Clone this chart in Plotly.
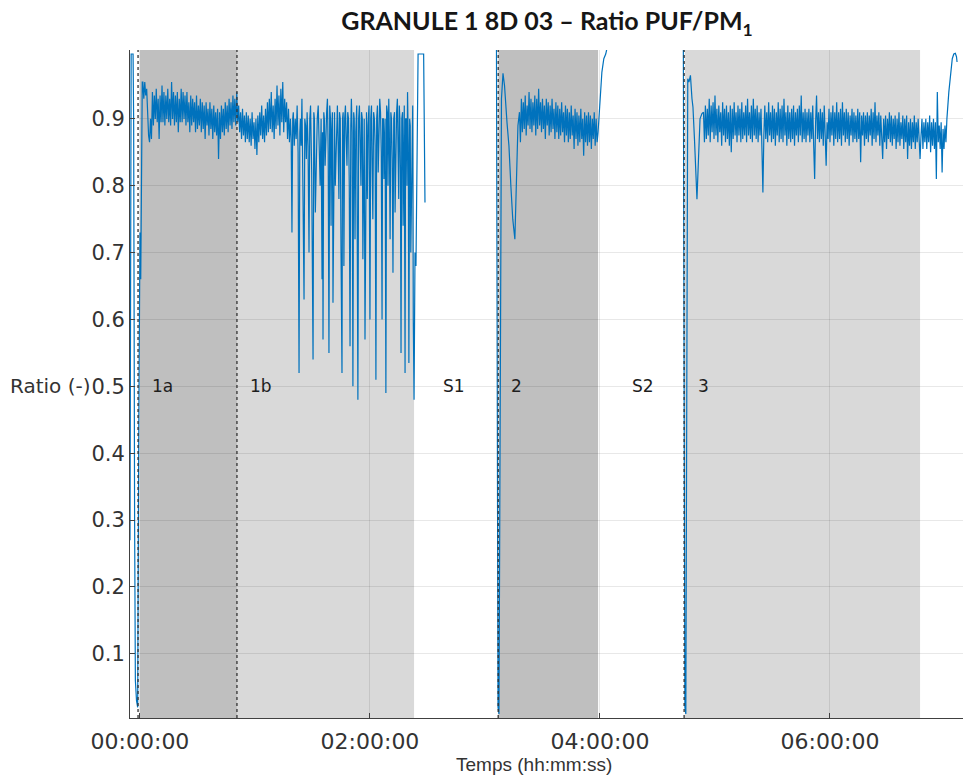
import numpy as np
import plotly.graph_objects as go

# ---- measured ratio PUF/PM1, time in minutes from the start of phase 1a ----
start_t = [-5.2, -4.9, -4.6, -3.6, -3.3, -2.8, -2.4, -1.8, -1.2, -0.6, 0.0, 0.4, 0.8, 1.2]
start_v = [0.27, 0.62, 0.997, 0.997, 0.90, 0.30, 0.06, 0.03, 0.02, 0.45, 0.73, 0.66, 0.88, 0.955]

# phase 1a, one sample every 30 s
p1a_t0 = 1.5
p1a_v = [0.955, 0.93, 0.955, 0.935, 0.945, 0.90, 0.875, 0.865, 0.90, 0.87,
         0.94, 0.89, 0.935, 0.90, 0.945, 0.895, 0.93, 0.87, 0.935, 0.895,
         0.95, 0.895, 0.94, 0.89, 0.935, 0.90, 0.945, 0.895, 0.93, 0.89,
         0.955, 0.90, 0.94, 0.89, 0.935, 0.895, 0.94, 0.88, 0.93, 0.895,
         0.945, 0.895, 0.94, 0.90, 0.935, 0.89, 0.94, 0.895, 0.925, 0.88,
         0.935, 0.89, 0.93, 0.895, 0.925, 0.88, 0.935, 0.885, 0.92, 0.89,
         0.93, 0.88, 0.925, 0.885, 0.92, 0.87, 0.925, 0.89, 0.915, 0.875,
         0.925, 0.885, 0.915, 0.87, 0.92, 0.88, 0.91, 0.875, 0.915, 0.84,
         0.91, 0.87, 0.92, 0.88, 0.915, 0.875, 0.925, 0.885, 0.92, 0.88,
         0.93, 0.89, 0.925, 0.885, 0.935, 0.895, 0.93, 0.89, 0.94, 0.895]

# phase 1b, stable part, one sample every 30 s
p1b_t0 = 51.5
p1b_v = [0.92, 0.88, 0.91, 0.87, 0.915, 0.875, 0.905, 0.865, 0.91, 0.87,
         0.905, 0.865, 0.90, 0.86, 0.91, 0.87, 0.895, 0.855, 0.90, 0.846,
         0.905, 0.865, 0.91, 0.875, 0.92, 0.87, 0.905, 0.865, 0.915, 0.875,
         0.925, 0.88, 0.93, 0.885, 0.94, 0.88, 0.92, 0.87, 0.93, 0.885,
         0.95, 0.89, 0.935, 0.875, 0.945, 0.895, 0.955, 0.88, 0.93, 0.895,
         0.925, 0.87, 0.915, 0.865]

# phase 1b, unstable part: (time, ratio) with deep drops
p1b_unstable = [
    (78.5, .90), (78.9, .87), (79.3, .73), (79.7, .90), (80.0, .91), (80.5, .86), (81.0, .90),
    (81.5, .87), (82.0, .92), (82.5, .85), (83.0, .52), (83.4, .88), (83.7, .90), (84.1, .86),
    (84.5, .93), (85.0, .80), (85.6, .63), (86.0, .90), (86.4, .89), (86.8, .84), (87.2, .91),
    (87.7, .86), (88.2, .70), (88.6, .90), (89.0, .92), (89.6, .82), (90.3, .54), (90.7, .91),
    (91.0, .90), (91.5, .76), (92.0, .86), (92.5, .90), (93.0, .92), (93.5, .87), (94.0, .80),
    (94.5, .90), (95.0, .66), (95.25, .88), (95.5, .57), (95.9, .91), (96.2, .90), (96.6, .83),
    (97.0, .88), (97.4, .91), (97.8, .93), (98.2, .85), (98.6, .55), (99.0, .92), (99.4, .90),
    (99.7, .74), (100.0, .88), (100.4, .91), (100.7, .625), (101.1, .90), (101.5, .91),
    (101.9, .80), (102.3, .85), (102.7, .90), (103.0, .92), (103.4, .86), (103.8, .78),
    (104.1, .91), (104.5, .90), (104.9, .70), (105.4, .52), (105.7, .90), (106.0, .91),
    (106.2, .85), (106.4, .68), (106.8, .90), (107.2, .92), (107.6, .87), (108.0, .83),
    (108.4, .91), (108.8, .90), (109.2, .80), (109.6, .56), (110.0, .89), (110.3, .93),
    (110.7, .88), (111.1, .50), (111.5, .91), (111.8, .90), (112.2, .72), (112.6, .88),
    (113.1, .92), (113.7, .48), (114.1, .90), (114.5, .92), (114.9, .86), (115.3, .80),
    (115.6, .91), (116.0, .90), (116.3, .69), (116.7, .87), (117.0, .90), (117.4, .57),
    (117.8, .90), (118.2, .91), (118.6, .78), (119.0, .89), (119.5, .92), (120.0, .60),
    (120.4, .90), (120.8, .92), (121.1, .84), (121.5, .75), (121.9, .91), (122.3, .90),
    (122.7, .86), (123.1, .51), (123.5, .90), (123.9, .92), (124.3, .82), (124.7, .88),
    (125.1, .93), (125.5, .91), (125.9, .85), (126.3, .60), (126.6, .90), (127.0, .90),
    (127.3, .81), (127.6, .87), (127.9, .90), (128.3, .49), (128.7, .92), (129.1, .91),
    (129.4, .80), (129.8, .93), (130.1, .88), (130.5, .72), (130.9, .91), (131.2, .90),
    (131.6, .84), (132.0, .67), (132.4, .90), (132.8, .91), (133.1, .76), (133.5, .88),
    (133.9, .91), (134.3, .93), (134.6, .86), (135.0, .78), (135.3, .92), (135.6, .90),
    (135.9, .82), (136.2, .55), (136.6, .90), (137.0, .91), (137.3, .74), (137.6, .88),
    (137.9, .92), (138.3, .52), (138.6, .90), (139.0, .90), (139.3, .80), (139.6, .94),
    (140.0, .86), (140.3, .535), (140.7, .90), (141.0, .89), (141.3, .70), (141.7, .82),
    (142.0, .90), (142.3, .92), (142.6, .60), (143.0, .48), (143.5, .70), (144.0, .68),
]

# pause S1 (signal saturates, then recording interrupted)
s1_t = [144.6, 145.1, 148.0, 148.7, 148.9]
s1_v = [0.85, 0.997, 0.997, 0.775, None]

# start of phase 2
p2_lead_t = [186.0, 186.8, 187.3, 188.0, 188.6, 189.4, 190.2, 191.5, 192.5, 193.5, 194.5, 195.6, 196.4, 197.2]
p2_lead_v = [1.01, 0.02, 0.01, 0.50, 0.93, 0.968, 0.95, 0.894, 0.86, 0.80, 0.75, 0.72, 0.82, 0.89]

# phase 2, one sample every 30 s
p2_t0 = 198
p2_v = [0.91, 0.865, 0.93, 0.88, 0.925, 0.885, 0.935, 0.875, 0.92, 0.89,
        0.94, 0.885, 0.93, 0.88, 0.925, 0.89, 0.935, 0.875, 0.93, 0.885,
        0.945, 0.89, 0.925, 0.88, 0.93, 0.885, 0.92, 0.87, 0.93, 0.89,
        0.925, 0.875, 0.92, 0.88, 0.93, 0.885, 0.915, 0.87, 0.925, 0.88,
        0.92, 0.87, 0.915, 0.875, 0.925, 0.88, 0.91, 0.865, 0.92, 0.875,
        0.915, 0.865, 0.91, 0.87, 0.92, 0.875, 0.905, 0.855, 0.915, 0.87,
        0.91, 0.86, 0.905, 0.865, 0.915, 0.87, 0.90, 0.845, 0.91, 0.865,
        0.905, 0.86, 0.91, 0.865, 0.905, 0.855, 0.90, 0.87, 0.91, 0.86,
        0.90, 0.865]

# pause S2 then start of phase 3
s2_t = [239, 240, 241, 242, 243, 244, 283.5, 284.3, 284.8, 285.3, 285.8, 286.4, 287.2,
        288.0, 288.5, 289.3, 290.0, 290.6, 291.4, 292.2, 293.2]
s2_v = [0.88, 0.93, 0.97, 0.99, 0.997, 1.01, 1.01, 0.02, 0.01, 0.50, 0.96, 0.955, 0.965,
        0.93, 0.918, 0.87, 0.82, 0.78, 0.84, 0.90, 0.908]

# phase 3, one sample every 30 s
p3_t0 = 294
p3_v = [0.91, 0.865, 0.92, 0.87, 0.915, 0.875, 0.93, 0.865, 0.92, 0.88,
        0.925, 0.87, 0.935, 0.875, 0.915, 0.865, 0.92, 0.88, 0.91, 0.86,
        0.925, 0.875, 0.915, 0.865, 0.92, 0.87, 0.91, 0.86, 0.92, 0.85,
        0.915, 0.87, 0.925, 0.875, 0.91, 0.865, 0.92, 0.875, 0.915, 0.865,
        0.925, 0.87, 0.91, 0.875, 0.92, 0.865, 0.93, 0.875, 0.91, 0.87,
        0.92, 0.865, 0.93, 0.875, 0.915, 0.87, 0.92, 0.865, 0.91, 0.875,
        0.915, 0.855, 0.79, 0.875, 0.92, 0.87, 0.91, 0.865, 0.925, 0.875,
        0.91, 0.865, 0.92, 0.87, 0.915, 0.86, 0.91, 0.875, 0.925, 0.865,
        0.915, 0.87, 0.92, 0.865, 0.93, 0.875, 0.91, 0.86, 0.92, 0.87,
        0.91, 0.865, 0.915, 0.87, 0.92, 0.86, 0.91, 0.875, 0.915, 0.865,
        0.92, 0.875, 0.935, 0.865, 0.91, 0.87, 0.915, 0.865, 0.91, 0.875,
        0.915, 0.865, 0.91, 0.87, 0.92, 0.86, 0.81, 0.895, 0.935, 0.87,
        0.91, 0.865, 0.915, 0.87, 0.91, 0.86, 0.92, 0.875, 0.83, 0.895,
        0.87, 0.915, 0.865, 0.91, 0.875, 0.92, 0.86, 0.91, 0.87, 0.925,
        0.865, 0.91, 0.87, 0.915, 0.86, 0.925, 0.875, 0.91, 0.865, 0.915,
        0.87, 0.91, 0.86, 0.905, 0.875, 0.915, 0.865, 0.91, 0.87, 0.905,
        0.865, 0.915, 0.87, 0.91, 0.835, 0.905, 0.875, 0.91, 0.86, 0.905,
        0.87, 0.91, 0.865, 0.905, 0.875, 0.915, 0.86, 0.91, 0.87, 0.925,
        0.865, 0.905, 0.875, 0.91, 0.86, 0.905, 0.87, 0.84, 0.90, 0.865,
        0.905, 0.855, 0.90, 0.87, 0.91, 0.865, 0.905, 0.86, 0.90, 0.87,
        0.905, 0.855, 0.90, 0.865, 0.91, 0.86, 0.895, 0.87, 0.905, 0.855,
        0.90, 0.865, 0.905, 0.84, 0.895, 0.86, 0.90, 0.855, 0.895, 0.865,
        0.905, 0.855, 0.895, 0.865, 0.90, 0.86, 0.84, 0.875, 0.90, 0.855,
        0.895, 0.865, 0.90, 0.855, 0.895, 0.865, 0.905, 0.85, 0.895, 0.86,
        0.90, 0.855, 0.895, 0.81, 0.94, 0.865, 0.89, 0.855, 0.895, 0.82,
        0.885, 0.855, 0.89, 0.865]

end_t = [421, 422, 423, 423.8, 424.6, 425.4, 426.0, 426.3]
end_v = [0.90, 0.94, 0.97, 0.99, 0.997, 0.998, 0.993, 0.985]

# ---- phases of the test ----
dark_phases = [(0.0, 50.6), (187.0, 239.0)]      # 1a, 2
light_phases = [(50.6, 143.0), (284.3, 407.0)]   # 1b, 3
phase_marks = [-1.0, 50.6, 186.9, 283.9]          # dotted separators
phase_names = ["1a", "1b", "S1", "2", "S2", "3"]
phase_label_t = [5.2, 56.3, 157.0, 192.5, 255.5, 290.0]

# ---- axis ticks ----
x_tickvals = [0, 120, 240, 360]
x_ticktext = ["00:00:00", "02:00:00", "04:00:00", "06:00:00"]
y_tickvals = [0.1, 0.2, 0.3, 0.4, 0.5, 0.6, 0.7, 0.8, 0.9]


def regular(t0, vals, step=0.5):
    return list(t0 + step * np.arange(len(vals))), list(vals)


unstable_t = [p[0] for p in p1b_unstable]
unstable_v = [p[1] for p in p1b_unstable]

t_all, v_all = [], []
for tt, vv in [
    (start_t, start_v),
    regular(p1a_t0, p1a_v),
    regular(p1b_t0, p1b_v),
    (unstable_t, unstable_v),
    (s1_t, s1_v),
    (p2_lead_t, p2_lead_v),
    regular(p2_t0, p2_v),
    (s2_t, s2_v),
    regular(p3_t0, p3_v),
    (end_t, end_v),
]:
    t_all += list(tt)
    v_all += list(vv)

fig = go.Figure()
fig.add_trace(go.Scatter(
    x=t_all, y=v_all, mode="lines",
    line=dict(color="#0072BD", width=1.2),
    connectgaps=False, showlegend=False, hoverinfo="skip",
))

shapes = []
for a, b in dark_phases:
    shapes.append(dict(type="rect", xref="x", yref="paper", x0=a, x1=b, y0=0, y1=1,
                       fillcolor="#bfbfbf", line_width=0, layer="below"))
for a, b in light_phases:
    shapes.append(dict(type="rect", xref="x", yref="paper", x0=a, x1=b, y0=0, y1=1,
                       fillcolor="#d9d9d9", line_width=0, layer="below"))
for m in phase_marks:
    shapes.append(dict(type="line", xref="x", yref="paper", x0=m, x1=m, y0=0, y1=1,
                       line=dict(color="#333333", width=1.3, dash="dot"), layer="above"))

TXT = "DejaVu Sans, Verdana, sans-serif"
annotations = []
for name, t in zip(phase_names, phase_label_t):
    annotations.append(dict(x=t, y=0.5, xref="x", yref="y", text=name, showarrow=False,
                            xanchor="left", yanchor="middle",
                            font=dict(family=TXT, size=17, color="#1e1e1e")))
annotations.append(dict(x=0, y=0.5, xref="paper", yref="y", text="Ratio (-)", showarrow=False,
                        xanchor="right", yanchor="middle", xshift=-37,
                        font=dict(family=TXT, size=20, color="#333333")))
annotations.append(dict(x=0.485, y=-0.07, xref="paper", yref="paper", text="Temps (hh:mm:ss)",
                        showarrow=False, xanchor="center", yanchor="middle",
                        font=dict(family="Liberation Sans, Arial", size=19, color="#333333")))

fig.update_layout(
    width=963, height=776,
    margin=dict(l=130, r=0, t=50, b=58),
    paper_bgcolor="white", plot_bgcolor="white",
    title=dict(text="<b>GRANULE 1 8D 03 – Ratio PUF/PM<sub>1</sub></b>",
               x=0.568, xanchor="center", y=0.972, yanchor="middle",
               font=dict(family="Lato, Open Sans, sans-serif", size=25, color="#161616")),
    shapes=shapes, annotations=annotations,
    font=dict(family=TXT, size=20, color="#333333"),
)
fig.update_xaxes(
    range=[-5.2, 429.4], tickvals=x_tickvals, ticktext=x_ticktext,
    tickfont=dict(family=TXT, size=22, color="#333333"), ticklabelstandoff=4,
    showgrid=True, gridcolor="rgba(0,0,0,0.09)", gridwidth=1,
    showline=True, linecolor="#404040", linewidth=1,
    ticks="inside", ticklen=5, tickcolor="#404040",
    zeroline=False,
)
fig.update_yaxes(
    range=[0.004, 1.003], tickvals=y_tickvals, tickformat=".1f",
    tickfont=dict(family=TXT, size=21, color="#333333"),
    showgrid=True, gridcolor="rgba(0,0,0,0.09)", gridwidth=1,
    showline=True, linecolor="#404040", linewidth=1,
    ticks="inside", ticklen=5, tickcolor="#404040",
    zeroline=False,
)

fig.write_html("out.html")
